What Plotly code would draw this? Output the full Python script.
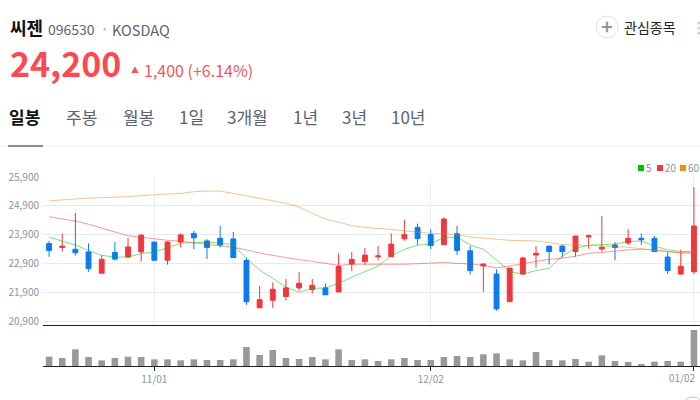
import plotly.graph_objects as go

# daily candles
day_index = list(range(50))
open_prices = [
    23590, 23450, 23390, 23300, 22560, 23280, 23120, 23300, 23640, 23010,
    23640, 23940, 23680, 23770, 23750, 23000, 21360, 21620, 21750, 22050,
    21990, 22050, 21910, 22880, 22960, 23130, 23130, 23760, 24150, 23900,
    23550, 23930, 23340, 22810, 22530, 21570, 22530, 23190, 23500, 23500,
    23310, 23820, 23400, 23540, 23610, 23770, 23770, 23120, 22530, 22610,
]
high_prices = [
    23680, 23940, 24650, 23600, 23180, 23640, 23780, 23910, 23640, 23680,
    23940, 24030, 23740, 24200, 23990, 23100, 22120, 22240, 22360, 22600,
    22360, 22210, 23250, 23300, 23440, 23500, 23940, 24410, 24280, 24090,
    24500, 24200, 23500, 22880, 22690, 22740, 23130, 23500, 23500, 23550,
    23850, 23900, 24550, 23640, 24090, 23940, 23850, 23300, 23370, 25550,
]
low_prices = [
    23130, 23310, 23170, 22610, 22560, 23000, 23100, 22960, 23010, 22860,
    23450, 23390, 23050, 23450, 23100, 21460, 21360, 21360, 21610, 21950,
    21860, 21810, 21910, 22640, 22860, 23010, 23130, 23690, 23540, 23400,
    23550, 23200, 22510, 21910, 21260, 21570, 22500, 22750, 22860, 23100,
    23130, 23410, 23310, 23010, 23540, 23540, 23310, 22530, 22500, 22530,
]
close_prices = [
    23350, 23500, 23270, 22720, 23040, 23050, 23470, 23880, 23010, 23640,
    23890, 23790, 23450, 23540, 23100, 21570, 21640, 22000, 22050, 22210,
    22140, 21810, 22790, 23040, 23190, 23160, 23570, 23900, 23760, 23520,
    24440, 23350, 22650, 22880, 21320, 22740, 23090, 23250, 23310, 23310,
    23850, 23860, 23460, 23450, 23770, 23720, 23310, 22650, 22800, 24200,
]
ma5 = [
    23810, 23680, 23540, 23350, 23180, 23120, 23120, 23240, 23300, 23440,
    23600, 23620, 23640, 23610, 23540, 23080, 22670, 22380, 22080, 21900,
    22030, 22050, 22210, 22420, 22610, 22810, 23160, 23390, 23530, 23570,
    23810, 23810, 23540, 23390, 23020, 22610, 22530, 22650, 22730, 23160,
    23420, 23530, 23550, 23570, 23660, 23680, 23500, 23370, 23310, 23310,
]
ma20 = [
    24520, 24450, 24370, 24260, 24120, 23980, 23860, 23810, 23750, 23700,
    23670, 23620, 23570, 23530, 23460, 23370, 23260, 23180, 23100, 23030,
    22970, 22900, 22830, 22870, 22870, 22870, 22860, 22870, 22890, 22900,
    22930, 22900, 22880, 22830, 22750, 22810, 22900, 22970, 23040, 23080,
    23150, 23250, 23280, 23330, 23370, 23390, 23370, 23310, 23260, 23260,
]
ma60 = [
    25070, 25100, 25150, 25170, 25180, 25190, 25220, 25250, 25290, 25310,
    25330, 25390, 25410, 25410, 25330, 25240, 25160, 25080, 24990, 24850,
    24640, 24440, 24330, 24210, 24150, 24120, 24080, 24030, 23980, 23940,
    23930, 23900, 23820, 23770, 23740, 23700, 23690, 23680, 23620, 23550,
    23540, 23530, 23500, 23480, 23460, 23410, 23370, 23310, 23270, 23310,
]
volumes = [
    280, 240, 500, 270, 170, 240, 280, 270, 200, 200,
    170, 200, 180, 180, 200, 570, 330, 480, 240, 210,
    270, 200, 500, 180, 200, 150, 200, 240, 180, 180,
    270, 300, 270, 350, 380, 200, 170, 420, 180, 170,
    210, 130, 320, 150, 120, 60, 130, 150, 130, 1080,
]
price_ticks = [25900, 24900, 23900, 22900, 21900, 20900]
date_ticks = [8, 29, 49]
date_labels = ["11/01", "12/02", ""]
tab_labels = ["일봉", "주봉", "월봉", "1일", "3개월", "1년", "3년", "10년"]
tab_x = [9, 66, 123, 179, 227, 293, 342, 391]

RED = "#f0383c"
BLUE = "#0a7bf0"
KR_FONT = "Noto Sans CJK KR"

fig = go.Figure()

fig.add_trace(go.Candlestick(
    x=day_index, open=open_prices, high=high_prices, low=low_prices, close=close_prices,
    increasing=dict(line=dict(color=RED, width=1), fillcolor=RED),
    decreasing=dict(line=dict(color=BLUE, width=1), fillcolor=BLUE),
    whiskerwidth=0, xaxis="x", yaxis="y", showlegend=False,
))
for values, color in [(ma5, "#00c000"), (ma20, "#f0383c"), (ma60, "#f08a1e")]:
    fig.add_trace(go.Scatter(
        x=day_index, y=values, mode="lines", line=dict(color=color, width=1),
        opacity=0.5, xaxis="x", yaxis="y", showlegend=False, hoverinfo="skip",
    ))
fig.add_trace(go.Bar(
    x=day_index, y=volumes, marker=dict(color="#999999", line=dict(width=0)),
    width=0.5, xaxis="x2", yaxis="y2", showlegend=False,
))

fig.update_layout(
    width=700, height=400,
    margin=dict(l=0, r=0, t=0, b=0, pad=0),
    paper_bgcolor="white", plot_bgcolor="white",
    boxgap=0.47,
    font=dict(family=KR_FONT, color="#8b93a0", size=10),
    xaxis=dict(
        domain=[43 / 700, 1], range=[-0.46, 49.46], anchor="y", automargin=False,
        tickvals=date_ticks, showticklabels=False, ticks="",
        showgrid=True, gridcolor="#eceef1", gridwidth=1, zeroline=False,
        rangeslider=dict(visible=False), showline=True, linecolor="#222222", linewidth=1,
    ),
    yaxis=dict(
        domain=[75 / 400, 223 / 400], range=[20761, 25900], anchor="x", automargin=False,
        tickvals=price_ticks, tickformat=",", ticks="", ticklabelstandoff=3,
        showgrid=True, gridcolor="#e8eaee", gridwidth=1, zeroline=False,
    ),
    xaxis2=dict(
        domain=[43 / 700, 1], range=[-0.46, 49.46], anchor="y2", automargin=False,
        tickvals=date_ticks, ticktext=date_labels, tickmode="array",
        ticks="outside", ticklen=4, tickcolor="#222222",
        showline=True, linecolor="#222222", linewidth=1, showgrid=False, zeroline=False,
        tickfont=dict(size=10, color="#8b93a0"),
    ),
    yaxis2=dict(
        domain=[34 / 400, 75 / 400], range=[0, 1230], anchor="x2", automargin=False,
        showticklabels=False, showgrid=False, zeroline=False, ticks="",
    ),
)


def paper_text(x, y, text, size, color, bold=False, anchor="left"):
    fig.add_annotation(
        xref="paper", yref="paper", x=x / 700, y=1 - y / 400, text=f"<b>{text}</b>" if bold else text,
        showarrow=False, xanchor=anchor, yanchor="middle", align="left",
        font=dict(family=KR_FONT, size=size, color=color), borderpad=0, borderwidth=0,
    )


# page header around the chart
paper_text(10, 27, "씨젠", 18, "#111111", bold=True)
paper_text(48, 29, "096530", 14, "#5b6472")
paper_text(103, 28, "•", 9, "#aeb4bd")
paper_text(112, 29, "KOSDAQ", 14.5, "#5b6472")
paper_text(10, 63, "24,200", 34, "#fc4a52", bold=True)
paper_text(131, 69, "▲", 8, "#f4565c")
paper_text(144, 70, "1,400 (+6.14%)", 16, "#f4565c")
paper_text(624, 27, "관심종목", 14, "#222222")
for i, (label, x) in enumerate(zip(tab_labels, tab_x)):
    paper_text(x, 116, label, 17, "#111111" if i == 0 else "#5b6472", bold=i == 0)

fig.add_shape(type="line", xref="paper", yref="paper", x0=0, x1=1, y0=1 - 146 / 400, y1=1 - 146 / 400,
              line=dict(color="#f0f1f3", width=1))
fig.add_shape(type="line", xref="paper", yref="paper", x0=8 / 700, x1=43 / 700, y0=1 - 146 / 400, y1=1 - 146 / 400,
              line=dict(color="#222222", width=1))
fig.add_shape(type="circle", xref="paper", yref="paper", x0=596 / 700, x1=618 / 700,
              y0=1 - 38 / 400, y1=1 - 16 / 400, line=dict(color="#dde0e6", width=1))
paper_text(607, 26, "+", 20, "#8d97a8", bold=True, anchor="center")
for dot_y in [23, 28, 33]:
    fig.add_shape(type="circle", xref="paper", yref="paper", x0=697.5 / 700, x1=1,
                  y0=1 - (dot_y + 1.5) / 400, y1=1 - (dot_y - 1.5) / 400,
                  fillcolor="#cccccc", line=dict(width=0))
# top of a round button that the crop cuts off
fig.add_shape(type="circle", xref="paper", yref="paper", x0=682 / 700, x1=704 / 700,
              y0=1 - 419 / 400, y1=1 - 397 / 400, line=dict(color="#c4c7cc", width=1))

# moving average key, top right
for x, label, color in [(638, "5", "#00c000"), (657, "20", "#f0383c"), (680, "60", "#f08a1e")]:
    fig.add_shape(type="rect", xref="paper", yref="paper", x0=x / 700, x1=(x + 6) / 700,
                  y0=1 - 171 / 400, y1=1 - 165 / 400, fillcolor=color, line=dict(width=0))
    paper_text(x + 8, 167, label, 10, "#8b93a0")

paper_text(682, 377, "01/02", 10, "#8b93a0", anchor="center")

fig.write_html(
    "out.html",
    config={"displayModeBar": False},
    post_script="document.body.style.margin='0';document.body.style.overflow='hidden';",
)
